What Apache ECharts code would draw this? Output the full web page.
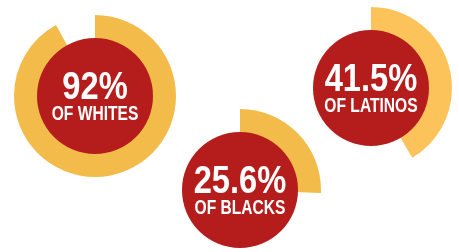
<!DOCTYPE html>
<html>
<head>
<meta charset="utf-8">
<script src="https://cdn.jsdelivr.net/npm/echarts@6/dist/echarts.min.js"></script>
<style>
html,body{margin:0;padding:0;background:#fff;}
#main{width:459px;height:252px;}
</style>
</head>
<body>
<div id="main"></div>
<script>
// Data
var groups = ['WHITES', 'BLACKS', 'LATINOS'];
var shares = [92, 25.6, 41.5];
var shareLabels = ['92%', '25.6%', '41.5%'];

// Layout (positions/styles)
var centers = [[95, 96], [240, 190], [371, 88]];
var ringColors = ['#F2BB4A', '#F2BB4A', '#FCC35A'];
var red = '#B51D1D';
var outerR = 81, innerR = 58;

var series = [];
var graphics = [];
groups.forEach(function (g, i) {
  series.push({
    type: 'pie',
    center: centers[i],
    radius: [innerR - 5, outerR],
    startAngle: 90,
    clockwise: true,
    silent: true,
    label: {show: false},
    labelLine: {show: false},
    animation: false,
    z: 1,
    data: [
      {value: shares[i], itemStyle: {color: ringColors[i]}},
      {value: 100 - shares[i], itemStyle: {color: 'rgba(0,0,0,0)'}}
    ]
  });
  series.push({
    type: 'pie',
    center: centers[i],
    radius: [0, innerR],
    silent: true,
    label: {show: false},
    labelLine: {show: false},
    animation: false,
    z: 2,
    data: [{value: 1, itemStyle: {color: red}}]
  });
  graphics.push({
    type: 'text',
    x: centers[i][0], y: centers[i][1] - 7.5,
    scaleX: 0.86,
    z: 10,
    style: {
      text: shareLabels[i],
      fill: '#fff',
      font: 'bold 38px "Liberation Sans", Arial, sans-serif',
      textAlign: 'center',
      textVerticalAlign: 'middle'
    }
  });
  graphics.push({
    type: 'text',
    x: centers[i][0], y: centers[i][1] + 19,
    scaleX: 0.8,
    z: 10,
    style: {
      text: 'OF ' + g,
      fill: '#fff',
      font: 'bold 19.5px "Liberation Sans", Arial, sans-serif',
      textAlign: 'center',
      textVerticalAlign: 'middle'
    }
  });
});

var chart = echarts.init(document.getElementById('main'));
chart.setOption({
  animation: false,
  series: series,
  graphic: graphics
});
</script>
</body>
</html>
